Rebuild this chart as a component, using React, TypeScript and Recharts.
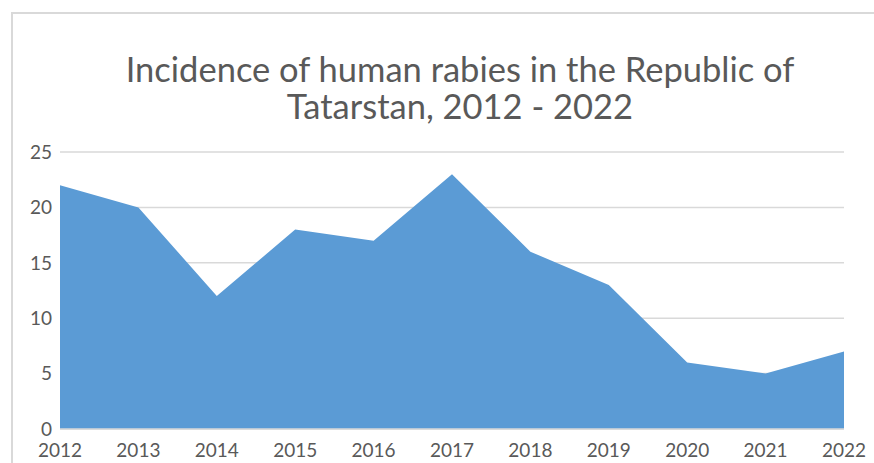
import React from "react";
import { AreaChart, Area, XAxis, YAxis, CartesianGrid } from "recharts";

const years = ["2012", "2013", "2014", "2015", "2016", "2017", "2018", "2019", "2020", "2021", "2022"];
const cases = [22, 20, 12, 18, 17, 23, 16, 13, 6, 5, 7];
const yTicks = [0, 5, 10, 15, 20, 25];
const titleLines = ["Incidence of human rabies in the Republic of", "Tatarstan, 2012 - 2022"];

const data = years.map((y, i) => ({ year: y, value: cases[i] }));

const FONT = "Lato, 'Open Sans', sans-serif";
const GREY = "#595959";

export default function App() {
  return (
    <div style={{ position: "absolute", left: 0, top: 0, width: 874, height: 463, background: "#fff", overflow: "hidden" }}>
      <div
        style={{
          position: "absolute",
          left: 11,
          top: 12,
          width: 900,
          height: 500,
          borderLeft: "2px solid #d9d9d9",
          borderTop: "2px solid #d9d9d9",
        }}
      />
      <div
        style={{
          position: "absolute",
          left: 0,
          top: 50,
          width: 920,
          textAlign: "center",
          fontFamily: FONT,
          fontSize: 34.5,
          lineHeight: "37px",
          color: GREY,
        }}
      >
        {titleLines.map((t, i) => (
          <div key={i}>{t}</div>
        ))}
      </div>
      <div style={{ position: "absolute", left: 0, top: 0 }}>
        <AreaChart width={874} height={463} data={data} margin={{ top: 152, right: 30, bottom: 0, left: 0 }}>
          <CartesianGrid horizontal vertical={false} stroke="#d9d9d9" strokeWidth={1.5} />
          <XAxis
            dataKey="year"
            height={34}
            axisLine={{ stroke: "#d9d9d9", strokeWidth: 1.5 }}
            tickLine={false}
            tickMargin={9}
            interval={0}
            tick={{ fill: GREY, fontSize: 19, fontFamily: FONT }}
          />
          <YAxis
            width={60}
            domain={[0, 25]}
            ticks={yTicks}
            axisLine={false}
            tickLine={false}
            tick={{ fill: GREY, fontSize: 19, fontFamily: FONT }}
          />
          <Area
            type="linear"
            dataKey="value"
            stroke="none"
            fill="#5b9bd5"
            fillOpacity={1}
            isAnimationActive={false}
          />
        </AreaChart>
      </div>
    </div>
  );
}
